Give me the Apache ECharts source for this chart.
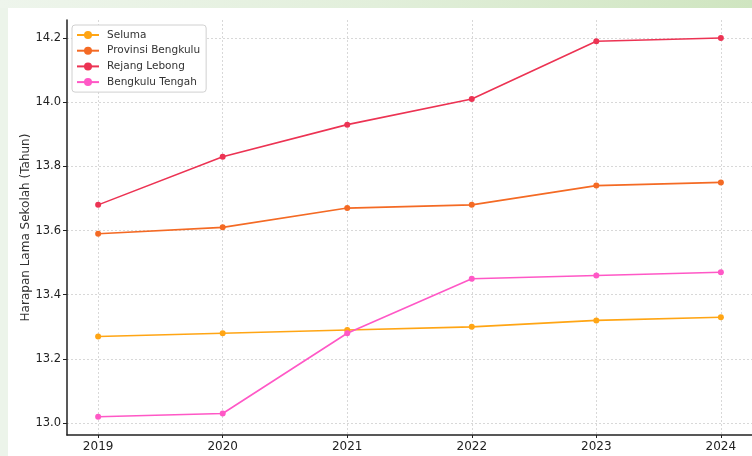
<!DOCTYPE html>
<html><head><meta charset="utf-8">
<script src="https://cdn.jsdelivr.net/npm/echarts@6/dist/echarts.min.js"></script>
<style>
html,body{margin:0;padding:0;width:752px;height:456px;overflow:hidden;background:#ECF4EA;}
#strip{position:absolute;left:0;top:0;width:752px;height:8px;background:linear-gradient(90deg,#EEF5EC 0%,#E2EFDB 50%,#CFE5C0 100%);}
#panel{position:absolute;left:8px;top:8px;width:744px;height:448px;background:#fff;}
#chart{position:absolute;left:0;top:0;width:752px;height:456px;}
</style></head>
<body>
<div id="strip"></div><div id="panel"></div>
<div id="chart"></div>
<script>
const years = [2019, 2020, 2021, 2022, 2023, 2024];
const seluma = [13.27, 13.28, 13.29, 13.30, 13.32, 13.33];
const provinsi = [13.59, 13.61, 13.67, 13.68, 13.74, 13.75];
const rejang = [13.68, 13.83, 13.93, 14.01, 14.19, 14.20];
const tengah = [13.02, 13.03, 13.28, 13.45, 13.46, 13.47];
const yTicks = [13.0, 13.2, 13.4, 13.6, 13.8, 14.0, 14.2];
const names = ['Seluma', 'Provinsi Bengkulu', 'Rejang Lebong', 'Bengkulu Tengah'];
const colors = ['#FFA514', '#F46A24', '#EC3353', '#FF58C6'];

const chart = echarts.init(document.getElementById('chart'), null, {renderer: 'canvas'});
const mk = (name, arr, c) => ({
  name, type: 'line', data: years.map((y, i) => [y, arr[i]]),
  symbol: 'circle', symbolSize: 6, showSymbol: true,
  lineStyle: {width: 1.6, color: c}, itemStyle: {color: c}, emphasis: {disabled: true}
});
chart.setOption({
  animation: false,
  backgroundColor: 'transparent',
  textStyle: {fontFamily: 'DejaVu Sans'},
  grid: {left: 67, top: 20, width: 686, height: 415, containLabel: false},
  legend: {
    orient: 'vertical', left: 72, top: 25, padding: [4, 6, 4, 4],
    itemWidth: 22, itemHeight: 10, itemGap: 3.7,
    borderColor: '#d0d0d0', borderWidth: 1, borderRadius: 3, backgroundColor: '#fff',
    textStyle: {fontSize: 10.5, color: '#333', lineHeight: 12, fontFamily: 'DejaVu Sans', padding: [0, 0, 0, 3]},
    data: names
  },
  xAxis: {
    type: 'value', min: 2018.75, max: 2024.25,
    axisLine: {show: true, lineStyle: {color: '#222', width: 1.5}},
    axisTick: {show: true, length: 3, customValues: years, lineStyle: {color: '#222'}},
    axisLabel: {customValues: years, fontSize: 12, color: '#222', margin: 6, formatter: v => String(v)},
    splitLine: {show: true, lineStyle: {color: '#d8d8d8', type: [2, 2], width: 1}}
  },
  yAxis: {
    type: 'value', min: 12.963, max: 14.256,
    name: 'Harapan Lama Sekolah (Tahun)', nameLocation: 'middle', nameGap: 35, nameMoveOverlap: false,
    nameTextStyle: {fontSize: 12, color: '#333'},
    axisLine: {show: true, lineStyle: {color: '#222', width: 1.5}},
    axisTick: {show: true, length: 4, customValues: yTicks, lineStyle: {color: '#222'}},
    axisLabel: {customValues: yTicks, fontSize: 11.5, color: '#222', margin: 6, formatter: v => v.toFixed(1)},
    splitLine: {show: true, lineStyle: {color: '#d8d8d8', type: [2, 2], width: 1}}
  },
  series: [mk(names[0], seluma, colors[0]), mk(names[1], provinsi, colors[1]), mk(names[2], rejang, colors[2]), mk(names[3], tengah, colors[3])]
});
</script>
</body></html>
